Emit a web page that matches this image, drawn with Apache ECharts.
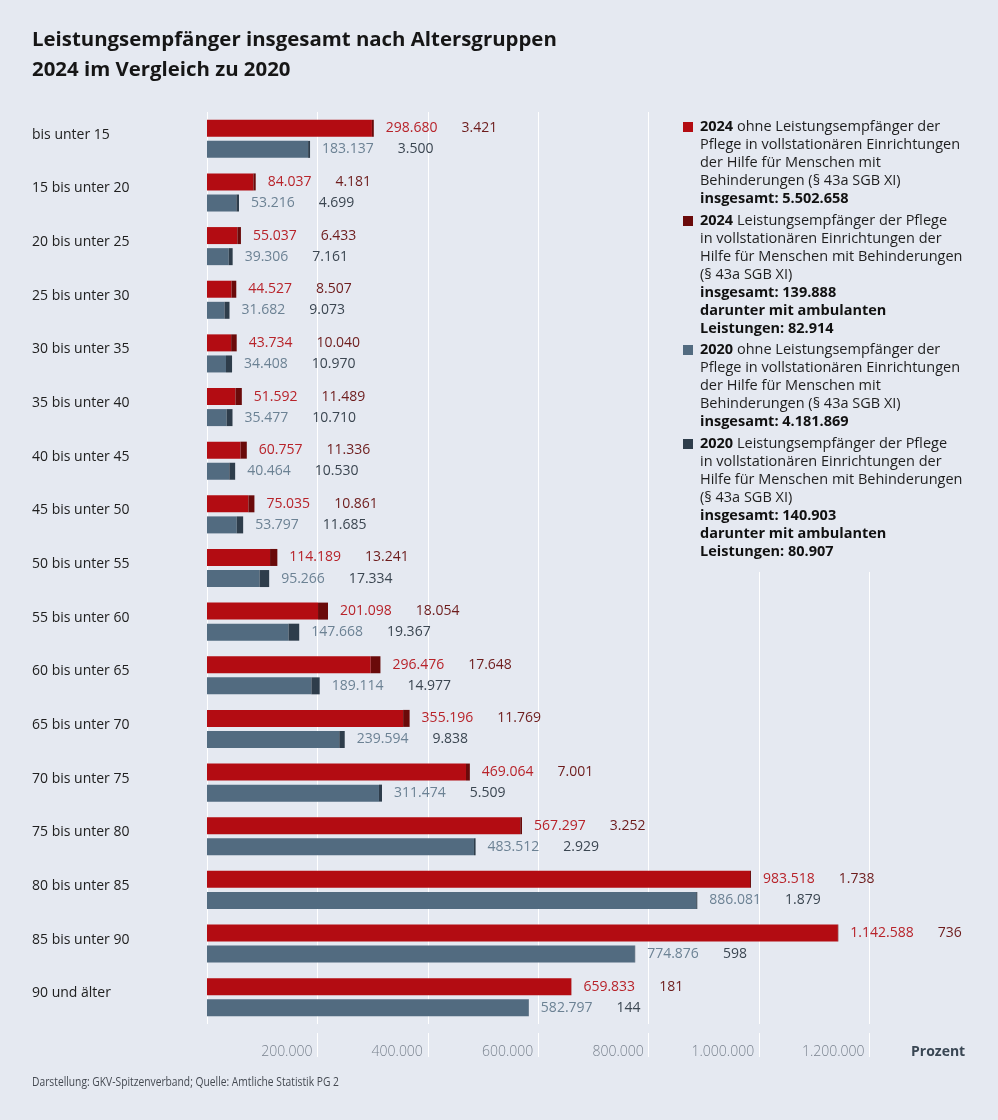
<!DOCTYPE html>
<html>
<head>
<meta charset="utf-8">
<script src="https://cdn.jsdelivr.net/npm/echarts@6/dist/echarts.min.js"></script>
<style>
html,body{margin:0;padding:0;background:#e5e9f1;}
#chart{width:998px;height:1120px;}
</style>
</head>
<body>
<div id="chart"></div>
<script>
const categories = ['bis unter 15','15 bis unter 20','20 bis unter 25','25 bis unter 30','30 bis unter 35','35 bis unter 40','40 bis unter 45','45 bis unter 50','50 bis unter 55','55 bis unter 60','60 bis unter 65','65 bis unter 70','70 bis unter 75','75 bis unter 80','80 bis unter 85','85 bis unter 90','90 und älter'];
const ohne2024 = [298680,84037,55037,44527,43734,51592,60757,75035,114189,201098,296476,355196,469064,567297,983518,1142588,659833];
const stat2024 = [3421,4181,6433,8507,10040,11489,11336,10861,13241,18054,17648,11769,7001,3252,1738,736,181];
const ohne2020 = [183137,53216,39306,31682,34408,35477,40464,53797,95266,147668,189114,239594,311474,483512,886081,774876,582797];
const stat2020 = [3500,4699,7161,9073,10970,10710,10530,11685,17334,19367,14977,9838,5509,2929,1879,598,144];
const tickValues = [200000,400000,600000,800000,1000000,1200000];

const FONT = "'Open Sans', 'Noto Sans', sans-serif";
function de(n){ return String(n).replace(/\B(?=(\d{3})+(?!\d))/g, '.'); }

const chart = echarts.init(document.getElementById('chart'), null, {renderer:'canvas'});

const legendBlocks = [
  {y:127, color:'#b30c12', lines:['{b|2024} ohne Leistungsempfänger der','Pflege in vollstationären Einrichtungen','der Hilfe für Menschen mit','Behinderungen (§ 43a SGB XI)','{b|insgesamt: 5.502.658}']},
  {y:221, color:'#6a0a0a', lines:['{b|2024} Leistungsempfänger der Pflege','in vollstationären Einrichtungen der','Hilfe für Menschen mit Behinderungen','(§ 43a SGB XI)','{b|insgesamt: 139.888}','{b|darunter mit ambulanten}','{b|Leistungen: 82.914}']},
  {y:350, color:'#526b80', lines:['{b|2020} ohne Leistungsempfänger der','Pflege in vollstationären Einrichtungen','der Hilfe für Menschen mit','Behinderungen (§ 43a SGB XI)','{b|insgesamt: 4.181.869}']},
  {y:444, color:'#2e3d4b', lines:['{b|2020} Leistungsempfänger der Pflege','in vollstationären Einrichtungen der','Hilfe für Menschen mit Behinderungen','(§ 43a SGB XI)','{b|insgesamt: 140.903}','{b|darunter mit ambulanten}','{b|Leistungen: 80.907}']}
];

const graphics = [
  {type:'rect', z:5, shape:{x:672, y:100, width:326, height:472}, style:{fill:'#e5e9f1'}},
  {type:'text', z:6, x:32, y:1082, scaleX:0.76,
   style:{text:'Darstellung: GKV-Spitzenverband; Quelle: Amtliche Statistik PG 2', x:0, y:0, verticalAlign:'middle', font:'13.5px '+FONT, fill:'#454a52'}},
  {type:'text', z:6, style:{text:'Prozent', x:911, y:1052, verticalAlign:'middle', font:'bold 14px '+FONT, fill:'#3a4754'}}
];
legendBlocks.forEach(b => {
  graphics.push({type:'rect', z:6, shape:{x:683, y:b.y-5, width:10, height:10}, style:{fill:b.color}});
  graphics.push({type:'text', z:6, style:{
    text:b.lines.join('\n'), x:700, y:b.y-9, verticalAlign:'top',
    font:'14.5px '+FONT, fill:'#1e1e1e', lineHeight:18,
    rich:{b:{fontWeight:'bold', fontSize:14.5, fontFamily:FONT, fill:'#111', lineHeight:18}}
  }});
});

function mkLabel(mainArr, darkArr, cMain, cDark){
  return {
    show:true, position:'right', distance:12,
    formatter: p => '{a|' + de(mainArr[p.dataIndex]) + '}{b|' + de(darkArr[p.dataIndex]) + '}',
    rich:{
      a:{color:cMain, fontSize:14, fontFamily:FONT},
      b:{color:cDark, fontSize:14, fontFamily:FONT, padding:[0,0,0,24]}
    }
  };
}

const option = {
  backgroundColor:'#e5e9f1',
  animation:false,
  title:{
    text:'Leistungsempfänger insgesamt nach Altersgruppen\n2024 im Vergleich zu 2020',
    left:32, top:25, padding:0,
    textStyle:{fontSize:20.4, fontWeight:'bold', fontFamily:FONT, color:'#161616', lineHeight:30}
  },
  grid:{left:207, right:18, top:112, bottom:96, containLabel:false},
  xAxis:[
    {type:'value', min:0, max:1400000, interval:200000,
     axisLine:{show:false}, axisTick:{show:false}, axisLabel:{show:false},
     splitLine:{show:true, showMaxLine:false, lineStyle:{color:'#ffffff', width:1}}},
    {type:'value', min:0, max:1400000, interval:200000, position:'bottom', offset:9,
     axisLine:{show:false},
     axisTick:{show:true, length:24, inside:false, customValues:tickValues, lineStyle:{color:'#ffffff', width:1}},
     axisLabel:{show:true, customValues:tickValues, align:'right', margin:12, padding:[0,5,0,0],
       formatter: v => de(v), fontSize:14, fontWeight:300, fontFamily:FONT, color:'#7a838f'},
     splitLine:{show:false}}
  ],
  yAxis:{
    type:'category', data:categories, inverse:true,
    axisLine:{show:false}, axisTick:{show:false},
    axisLabel:{align:'left', margin:175, fontSize:14, fontFamily:FONT, color:'#202020', verticalAlign:'bottom', lineHeight:8}
  },
  graphic:graphics,
  series:[
    {name:'2024 ohne', type:'bar', stack:'a', data:ohne2024, barWidth:17, barGap:'24%', itemStyle:{color:'#b30c12'}},
    {name:'2024 stat', type:'bar', stack:'a', data:stat2024, barWidth:17, barGap:'24%', itemStyle:{color:'#6a0a0a'},
     label:mkLabel(ohne2024, stat2024, '#b8232a', '#6d1c1c')},
    {name:'2020 ohne', type:'bar', stack:'b', data:ohne2020, barWidth:17, barGap:'24%', itemStyle:{color:'#526b80'}},
    {name:'2020 stat', type:'bar', stack:'b', data:stat2020, barWidth:17, barGap:'24%', itemStyle:{color:'#2e3d4b'},
     label:mkLabel(ohne2020, stat2020, '#6c8294', '#3b4651')}
  ]
};
chart.setOption(option);
</script>
</body>
</html>
